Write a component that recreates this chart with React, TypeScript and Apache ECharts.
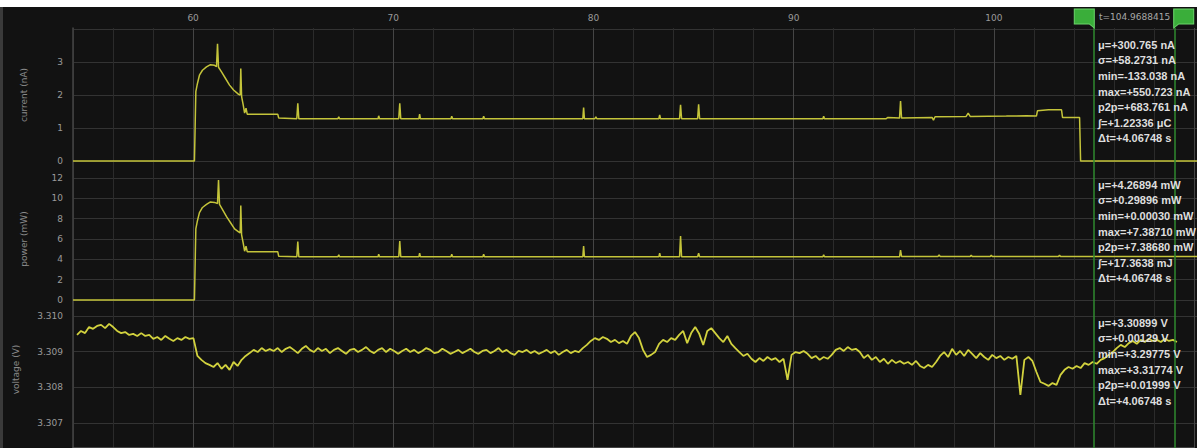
import React, { useEffect, useRef } from 'react';
import * as echarts from 'echarts';

// ---- axis ranges / ticks ----
const timeMin = 54;
const timeMax = 110;
const timeStep = 2;
const currentTicks = { min: 0, max: 4, interval: 1 };
const powerTicks = { min: 0, max: 12, interval: 2 };
const voltageTicks = { min: 3.307, max: 3.31, interval: 0.001 };

// ---- current (time, value) ----
const currentPoints: [number, number][] = [
  [54.0, 0], [60.05, 0], [60.12, 2.1], [60.2, 2.35], [60.3, 2.6], [60.45, 2.75], [60.65, 2.85],
  [60.85, 2.92], [61.05, 2.9], [61.15, 2.86], [61.2, 3.55], [61.25, 2.84], [61.4, 2.7], [61.6, 2.5],
  [61.8, 2.3], [62.0, 2.15], [62.25, 2.02], [62.33, 2.0], [62.36, 2.8], [62.4, 1.95], [62.48, 1.7],
  [62.55, 1.45], [62.62, 1.6], [62.68, 1.42], [64.2, 1.42], [64.25, 1.3], [65.15, 1.28], [65.2, 1.75],
  [65.25, 1.28], [67.2, 1.28], [67.24, 1.34], [67.28, 1.28], [69.2, 1.28], [69.23, 1.37], [69.27, 1.28],
  [70.23, 1.28], [70.28, 1.75], [70.33, 1.28], [71.23, 1.28], [71.27, 1.42], [71.31, 1.28],
  [72.83, 1.28], [72.87, 1.36], [72.91, 1.28], [74.42, 1.28], [74.46, 1.36], [74.5, 1.28],
  [79.4, 1.28], [79.44, 1.62], [79.48, 1.28], [80.0, 1.28], [80.05, 1.34], [80.1, 1.28],
  [83.19, 1.28], [83.23, 1.4], [83.27, 1.28], [84.22, 1.28], [84.27, 1.7], [84.32, 1.28],
  [85.12, 1.28], [85.17, 1.72], [85.22, 1.28], [91.36, 1.28], [91.4, 1.36], [91.44, 1.28],
  [94.5, 1.28], [94.6, 1.32], [95.18, 1.3], [95.23, 1.82], [95.28, 1.3], [96.8, 1.32], [96.87, 1.24],
  [96.95, 1.34], [98.5, 1.35], [98.6, 1.45], [98.7, 1.35], [100.5, 1.36], [101.5, 1.37], [102.0, 1.36],
  [102.05, 1.52], [102.6, 1.55], [103.25, 1.55], [103.3, 1.32], [104.15, 1.32], [104.2, 0], [110, 0],
];

// ---- power (time, value) ----
const powerPoints: [number, number][] = [
  [54.0, 0], [60.05, 0], [60.12, 7.0], [60.2, 7.8], [60.3, 8.6], [60.45, 9.1], [60.65, 9.4],
  [60.85, 9.65], [61.05, 9.6], [61.2, 9.5], [61.25, 11.8], [61.3, 9.4], [61.45, 8.9], [61.65, 8.2],
  [61.85, 7.6], [62.05, 7.0], [62.25, 6.7], [62.33, 6.6], [62.36, 9.3], [62.4, 6.4], [62.48, 5.6],
  [62.55, 4.8], [62.62, 5.3], [62.68, 4.75], [64.2, 4.75], [64.25, 4.3], [65.15, 4.25], [65.2, 5.75],
  [65.25, 4.25], [67.2, 4.25], [67.24, 4.45], [67.28, 4.25], [69.2, 4.25], [69.23, 4.5], [69.27, 4.25],
  [70.23, 4.25], [70.28, 5.8], [70.33, 4.25], [71.23, 4.25], [71.27, 4.6], [71.31, 4.25],
  [72.83, 4.25], [72.87, 4.5], [72.91, 4.25], [74.42, 4.25], [74.46, 4.5], [74.5, 4.25],
  [79.4, 4.25], [79.44, 5.3], [79.48, 4.25], [83.19, 4.25], [83.23, 4.6], [83.27, 4.25],
  [84.22, 4.25], [84.27, 6.3], [84.32, 4.25], [85.12, 4.25], [85.17, 4.6], [85.22, 4.25],
  [91.36, 4.25], [91.4, 4.45], [91.44, 4.25], [95.18, 4.25], [95.23, 4.9], [95.28, 4.28],
  [97.1, 4.28], [97.15, 4.45], [97.2, 4.28], [98.7, 4.28], [98.75, 4.42], [98.8, 4.28],
  [99.7, 4.28], [99.75, 4.4], [99.8, 4.28], [103.1, 4.28], [103.15, 4.42], [103.2, 4.28], [110, 4.28],
];

// ---- voltage, sampled every 0.2 s from 54.2 s ----
const voltageStart = 54.2;
const voltageStep = 0.2;
const voltageValues: number[] = [
  3.30947, 3.30958, 3.30952, 3.30969, 3.30964, 3.30972, 3.30975, 3.30966, 3.30978, 3.30969,
  3.30958, 3.30952, 3.30955, 3.30947, 3.3095, 3.30944, 3.30952, 3.30944, 3.30947, 3.30936,
  3.30941, 3.30933, 3.30944, 3.30936, 3.3093, 3.30938, 3.30933, 3.30941, 3.30936, 3.30938,
  3.30888, 3.30877, 3.30868, 3.30863, 3.30857, 3.30868, 3.30852, 3.30863, 3.30849, 3.30871, 3.3086,
  3.30877, 3.30888, 3.30896, 3.30905, 3.30899, 3.3091, 3.30902, 3.30907,
  3.30902, 3.3091, 3.30899, 3.30908, 3.30913, 3.30905, 3.30896, 3.30908, 3.30916, 3.30905,
  3.30899, 3.3091, 3.30902, 3.30908, 3.30896, 3.30905, 3.3091, 3.30902, 3.30894, 3.30905,
  3.30908, 3.30899, 3.30905, 3.30913, 3.30902, 3.30896, 3.30905, 3.3091, 3.30899, 3.30908,
  3.30902, 3.30894, 3.30902, 3.30908, 3.30899, 3.30905, 3.30896, 3.30902, 3.3091, 3.30905,
  3.30896, 3.30899, 3.30908, 3.30902, 3.30894, 3.30899, 3.30905, 3.30896, 3.30902, 3.30908,
  3.30899, 3.30894, 3.30902, 3.30905, 3.30896, 3.30902, 3.3091, 3.30899, 3.30905, 3.30896,
  3.30891, 3.30902, 3.30899, 3.30905, 3.30896, 3.30902, 3.30894, 3.30899, 3.30905, 3.30896,
  3.30902, 3.30891, 3.30899, 3.30905, 3.30896, 3.30902,
  3.30899, 3.3091, 3.30919, 3.3093, 3.30938, 3.30933, 3.30941, 3.30936, 3.30927, 3.30933,
  3.30924, 3.3093, 3.30922, 3.30944, 3.30955, 3.30938, 3.30905, 3.30885, 3.30891, 3.30899,
  3.30922, 3.30933, 3.30927, 3.30938, 3.30933, 3.30947, 3.30958, 3.30924, 3.30952, 3.30969,
  3.3095, 3.30919, 3.30958, 3.30966, 3.30952, 3.30938, 3.30927, 3.30944, 3.30922, 3.3091,
  3.30899, 3.30888, 3.30894, 3.3088, 3.30871, 3.30882, 3.30874, 3.30885, 3.30877, 3.30882,
  3.30871, 3.3088, 3.30821, 3.30891, 3.30899, 3.30896, 3.30902, 3.30894, 3.30882, 3.30888,
  3.30877, 3.30885, 3.3088, 3.30891, 3.30905, 3.3091, 3.30902, 3.30913, 3.30905, 3.30908,
  3.30899, 3.30882, 3.30891, 3.30877, 3.30885, 3.30871, 3.3088, 3.30866, 3.30877, 3.30868,
  3.30874, 3.30866, 3.30871, 3.30863, 3.30874, 3.3086, 3.30854, 3.30863, 3.30857, 3.30871,
  3.30888, 3.30899, 3.30885, 3.30908, 3.30891, 3.30902, 3.30888, 3.30905, 3.30894, 3.30882,
  3.30896, 3.30885, 3.30877, 3.30891, 3.30882, 3.30888, 3.30877, 3.30885, 3.3088, 3.30888,
  3.30779, 3.30877, 3.30885, 3.30874, 3.30843, 3.30815, 3.3081, 3.30804, 3.30812, 3.30807,
  3.30835, 3.30849, 3.30857, 3.30852, 3.3086, 3.30854, 3.30868, 3.30863, 3.30871, 3.30866,
  3.30877, 3.30882, 3.30891, 3.30899, 3.3091, 3.30919, 3.30913, 3.30924, 3.3093, 3.30922,
  3.30933, 3.30927, 3.30936, 3.3093, 3.30933, 3.30927, 3.30936, 3.3093, 3.30933, 3.30927,
];

// ---- cursors and measurement texts ----
const cursorTimes = [104.9688415, 109.0363215];
const cursorLabel = 't=104.9688415';
const currentStats = ['μ=+300.765 nA', 'σ=+58.2731 nA', 'min=-133.038 nA', 'max=+550.723 nA', 'p2p=+683.761 nA', '∫=+1.22336 μC', 'Δt=+4.06748 s'];
const powerStats = ['μ=+4.26894 mW', 'σ=+0.29896 mW', 'min=+0.00030 mW', 'max=+7.38710 mW', 'p2p=+7.38680 mW', '∫=+17.3638 mJ', 'Δt=+4.06748 s'];
const voltageStats = ['μ=+3.30899 V', 'σ=+0.00129 V', 'min=+3.29775 V', 'max=+3.31774 V', 'p2p=+0.01999 V', 'Δt=+4.06748 s'];
const axisNames = ['current (nA)', 'power (mW)', 'voltage (V)'];

const FONT = 'DejaVu Sans';
const STAT_FONT = 'Liberation Sans';
const TRACE = '#c4c43a';

export default function App() {
  const ref = useRef<HTMLDivElement>(null);
  useEffect(() => {
    if (!ref.current) return;
    const chart = echarts.init(ref.current, null, { renderer: 'svg' });
    const voltageData = voltageValues.map((v, i) => [voltageStart + i * voltageStep, v]);

    const hiddenX = (gridIndex: number) => ({
      type: 'value', gridIndex, min: timeMin, max: timeMax, show: false,
    });
    const yAxisFor = (gridIndex: number, t: any, name: string, nameGap: number, fmt: (v: number) => string) => ({
      type: 'value', gridIndex, min: t.min, max: t.max, interval: t.interval,
      name, nameLocation: 'middle', nameGap,
      nameTextStyle: { color: '#8a8a8a', fontSize: 9, fontFamily: FONT },
      axisLine: { show: false }, axisTick: { show: false },
      axisLabel: { color: '#9a9a9a', fontSize: 9, fontFamily: FONT, margin: 10, formatter: fmt },
      splitLine: { show: true, lineStyle: { color: '#333333', width: 1 } },
    });
    const statText = (lines: string[], top: number) => ({
      type: 'text', x: 1098, y: top, z: 120,
      style: {
        text: lines.join('\n'), fill: '#dedede', fontSize: 11, fontWeight: 'bold',
        fontFamily: STAT_FONT, lineHeight: 15.6, verticalAlign: 'top',
      },
    });
    const minor = '#2b2b2b';
    const major = '#454545';

    chart.setOption({
      animation: false,
      backgroundColor: '#121212',
      grid: [
        { left: 73, right: 0, top: 28, bottom: 0 },
        { left: 73, right: 0, top: 29, height: 132 },
        { left: 73, right: 0, top: 178, height: 122 },
        { left: 73, right: 0, top: 316, height: 107 },
      ],
      xAxis: [
        {
          type: 'value', gridIndex: 0, min: timeMin, max: timeMax, interval: timeStep, position: 'top',
          axisLine: { show: true, lineStyle: { color: '#555555', width: 1.5 } },
          axisTick: { show: false },
          axisLabel: {
            color: '#9a9a9a', fontSize: 9, fontFamily: FONT, margin: 6,
            formatter: (v: number) => (v % 10 === 0 && v < 105 ? String(v) : ''),
          },
          splitLine: { show: true, lineStyle: { color: [minor, minor, minor, major, minor], width: 1 } },
        },
        hiddenX(1), hiddenX(2), hiddenX(3),
      ],
      yAxis: [
        {
          type: 'value', gridIndex: 0, min: 0, max: 1,
          axisLine: { show: true, lineStyle: { color: '#444444', width: 1.5 } },
          axisLabel: { show: false }, axisTick: { show: false }, splitLine: { show: false },
        },
        yAxisFor(1, currentTicks, axisNames[0], 45, (v) => (v === currentTicks.max ? '' : String(v))),
        yAxisFor(2, powerTicks, axisNames[1], 45, (v) => String(v)),
        yAxisFor(3, voltageTicks, axisNames[2], 53, (v) => v.toFixed(3)),
      ],
      series: [
        {
          type: 'line', xAxisIndex: 0, yAxisIndex: 0, data: [[timeMin, -1]], showSymbol: false,
          lineStyle: { opacity: 0 }, silent: true,
          markLine: {
            silent: true, symbol: 'none', label: { show: false },
            lineStyle: { color: '#2f8a2f', width: 1.5, type: 'solid' },
            data: cursorTimes.map((t) => ({ xAxis: t })),
          },
          markPoint: {
            silent: true, label: { show: false },
            data: [
              {
                coord: [cursorTimes[0], 1], symbol: 'path://M0,0 L20,0 L20,19 L15,15 L0,15 Z',
                symbolSize: [20, 19], symbolOffset: [-9, -9.5],
                itemStyle: { color: '#3aae3a', borderColor: '#6ad46a', borderWidth: 1 },
              },
              {
                coord: [cursorTimes[1], 1], symbol: 'path://M0,0 L20,0 L20,15 L5,15 L0,19 Z',
                symbolSize: [20, 19], symbolOffset: [9, -9.5],
                itemStyle: { color: '#3aae3a', borderColor: '#6ad46a', borderWidth: 1 },
              },
            ],
          },
        },
        {
          type: 'line', xAxisIndex: 1, yAxisIndex: 1, data: currentPoints, showSymbol: false,
          lineStyle: { color: TRACE, width: 1.5 }, clip: false,
        },
        {
          type: 'line', xAxisIndex: 2, yAxisIndex: 2, data: powerPoints, showSymbol: false,
          lineStyle: { color: TRACE, width: 1.5 }, clip: false,
        },
        {
          type: 'line', xAxisIndex: 3, yAxisIndex: 3, data: voltageData, showSymbol: false,
          lineStyle: { color: '#d2d23e', width: 1.8 }, clip: false,
        },
      ],
      graphic: [
        { type: 'rect', shape: { x: 0, y: 0, width: 1197, height: 7 }, style: { fill: '#ffffff' }, z: 150 },
        { type: 'rect', shape: { x: 0, y: 7, width: 3, height: 441 }, style: { fill: '#3a3a3a' }, z: 150 },
        {
          type: 'text', x: 1099, y: 17, z: 120,
          style: { text: cursorLabel, fill: '#a8a8a8', fontSize: 9, fontFamily: FONT, verticalAlign: 'middle' },
        },
        statText(currentStats, 37),
        statText(powerStats, 177),
        statText(voltageStats, 315),
      ],
    });
    return () => chart.dispose();
  }, []);
  return <div ref={ref} style={{ position: 'fixed', left: 0, top: 0, width: 1197, height: 448 }} />;
}
